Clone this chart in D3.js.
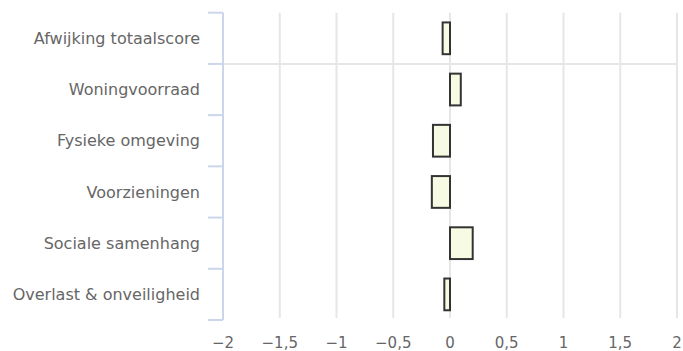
<!DOCTYPE html>
<html>
<head>
<meta charset="utf-8">
<script src="https://cdn.jsdelivr.net/npm/d3@7"></script>
<style>
  html, body { margin: 0; padding: 0; background: #fff; }
  svg { display: block; }
  text { font-family: "DejaVu Sans", Verdana, sans-serif; fill: #666; }
</style>
</head>
<body>
<svg id="chart" width="683" height="351"></svg>
<script>
const categories = ["Afwijking totaalscore", "Woningvoorraad", "Fysieke omgeving", "Voorzieningen", "Sociale samenhang", "Overlast & onveiligheid"];
const values = [-0.065, 0.095, -0.15, -0.16, 0.2, -0.05];
const xTicks = [-2, -1.5, -1, -0.5, 0, 0.5, 1, 1.5, 2];
const xDomain = [-2, 2];

const svg = d3.select("#chart");
const plot = { left: 223, right: 677, top: 12.7, bottom: 320 };

const x = d3.scaleLinear().domain(xDomain).range([plot.left, plot.right]);
const y = d3.scaleBand().domain(categories).range([plot.top, plot.bottom])
  .paddingInner(0.38).paddingOuter(0.19);

const fmt = v => (v < 0 ? "\u2212" : "") + String(Math.abs(v)).replace(".", ",");

// vertical grid lines
svg.append("g").selectAll("line").data(xTicks).join("line")
  .attr("x1", d => x(d)).attr("x2", d => x(d))
  .attr("y1", plot.top).attr("y2", plot.bottom - 2)
  .attr("stroke", "#e6e6e6").attr("stroke-width", 2);

// plot line between first and second category
const step = y.step();
const b0 = y(categories[0]) - (step - y.bandwidth()) / 2;
const bnds = d3.range(categories.length + 1).map(i => b0 + i * step);
svg.append("line")
  .attr("x1", plot.left).attr("x2", plot.right)
  .attr("y1", bnds[1]).attr("y2", bnds[1])
  .attr("stroke", "#e6e6e6").attr("stroke-width", 2);

// category axis line and ticks
svg.append("line")
  .attr("x1", plot.left).attr("x2", plot.left)
  .attr("y1", plot.top).attr("y2", plot.bottom)
  .attr("stroke", "#ccd6eb").attr("stroke-width", 2);
svg.append("g").selectAll("line").data(bnds).join("line")
  .attr("x1", plot.left - 15).attr("x2", plot.left)
  .attr("y1", d => d).attr("y2", d => d)
  .attr("stroke", "#ccd6eb").attr("stroke-width", 2);

// category labels
svg.append("g").selectAll("text").data(categories).join("text")
  .attr("x", 200)
  .attr("y", d => y(d) + y.bandwidth() / 2)
  .attr("dy", "0.35em")
  .attr("text-anchor", "end")
  .style("font-size", "16px")
  .text(d => d);

// bars
svg.append("g").selectAll("rect").data(values).join("rect")
  .attr("x", d => Math.min(x(0), x(d)))
  .attr("y", (d, i) => y(categories[i]))
  .attr("width", d => Math.abs(x(d) - x(0)))
  .attr("height", y.bandwidth())
  .attr("fill", "#f7fbe3")
  .attr("stroke", "#333")
  .attr("stroke-width", 2);

// x tick labels
svg.append("g").selectAll("text").data(xTicks).join("text")
  .attr("x", d => x(d))
  .attr("y", 343)
  .attr("dy", "0.35em")
  .attr("text-anchor", "middle")
  .style("font-size", "15px")
  .text(fmt);
</script>
</body>
</html>
